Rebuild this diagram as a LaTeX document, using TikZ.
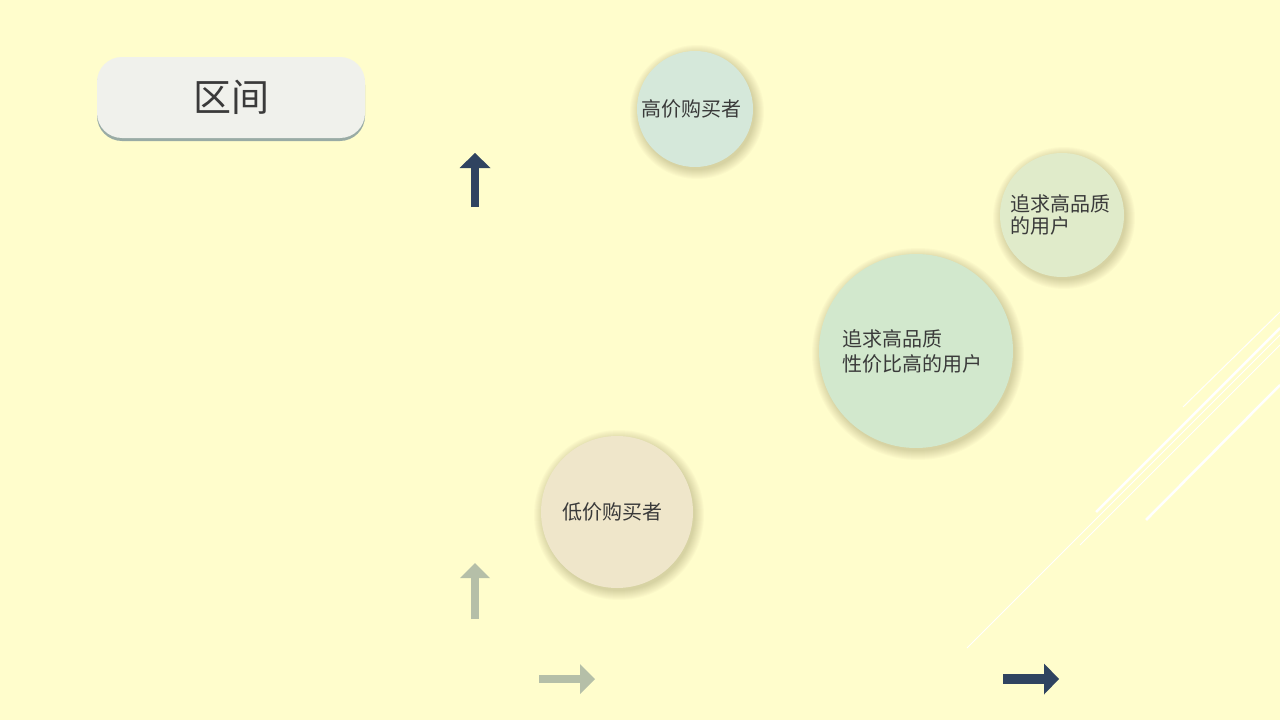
\documentclass[tikz,border=0pt]{standalone}
\usepackage{fontspec}
\newfontfamily\cjk{Noto Sans CJK SC}
\usetikzlibrary{arrows.meta,shadows}
\definecolor{bgyellow}{HTML}{FFFDCC}
\definecolor{titlegray}{HTML}{F0F1EC}
\definecolor{titleshade}{HTML}{8EA3A1}
\definecolor{textgray}{HTML}{3A3A3A}
\definecolor{highgreen}{HTML}{D5E8DA}
\definecolor{qualgreen}{HTML}{E0EBCA}
\definecolor{valuegreen}{HTML}{D2E8CD}
\definecolor{lowbeige}{HTML}{EFE6CA}
\definecolor{darkslate}{HTML}{2F4360}
\definecolor{palesage}{HTML}{B5BFA8}
\definecolor{shadebrown}{HTML}{5A4A20}
\tikzset{
  titlebox/.style={rounded corners=25pt, minimum width=268pt, minimum height=81pt,
    fill=titlegray, text=textgray, font=\cjk\fontsize{38}{44}\selectfont,
    drop shadow={fill=titleshade, shadow xshift=0pt, shadow yshift=-3pt, opacity=0.9}},
  bubble/.style={circle, inner sep=0pt, text=textgray, align=left,
    font=\cjk\fontsize{20}{25}\selectfont},
  darkarrow/.style={draw=darkslate, line width=8pt,
    -{Triangle[length=15pt, width=31pt, line width=0pt]}},
  palearrow/.style={draw=palesage, line width=8pt,
    -{Triangle[length=15pt, width=30pt, line width=0pt]}},
  streak/.style={draw=white, line width=1pt},
  thickstreak/.style={draw=white, line width=2.5pt}
}
\begin{document}
\begin{tikzpicture}[x=1pt,y=-1pt]
  \useasboundingbox (0,0) rectangle (1280,720);
  \fill[bgyellow] (0,0) rectangle (1280,720);

  % white streaks at the right edge
  \draw[streak] (1280,312) -- (1183,407);
  \draw[thickstreak] (1280,328) -- (1096,512);
  \draw[streak] (1280,335) -- (967,648);
  \draw[streak] (1280,345) -- (1080,545);
  \draw[thickstreak] (1280,385) -- (1146,520);

  \node[titlebox] (title) at (231,97.5) {区间};

  % soft shadows under the bubbles
  \foreach \cx/\cy/\r in {695/109/58, 1062/215/62, 916/351/97, 617/512/76}
    \foreach \k in {0,...,9}
      \fill[shadebrown, opacity=0.025] (\cx+2,\cy+3) circle[radius=\r pt+\k pt];

  \node[bubble, fill=highgreen, minimum size=116pt] (high) at (695,109) {高价购买者\kern8pt};
  \node[bubble, fill=qualgreen, minimum size=124pt, font=\cjk\fontsize{20}{22}\selectfont] (quality) at (1062,215) {追求高品质\kern4pt\\的用户};
  \node[bubble, fill=valuegreen, minimum size=194pt] (value) at (916,351) {追求高品质\\性价比高的用户\kern8pt};
  \node[bubble, fill=lowbeige, minimum size=152pt] (low) at (617,512) {低价购买者\kern10pt};

  % axis arrows
  \coordinate (upA) at (475,207);
  \coordinate (upB) at (475,153);
  \coordinate (upC) at (475,619);
  \coordinate (upD) at (475,563);
  \coordinate (rtA) at (539,679);
  \coordinate (rtB) at (595,679);
  \coordinate (rtC) at (1003,679);
  \coordinate (rtD) at (1059,679);
  \draw[darkarrow] (upA) -- (upB);
  \draw[palearrow] (upC) -- (upD);
  \draw[palearrow] (rtA) -- (rtB);
  \draw[darkarrow, line width=10pt] (rtC) -- (rtD);
\end{tikzpicture}
\end{document}
